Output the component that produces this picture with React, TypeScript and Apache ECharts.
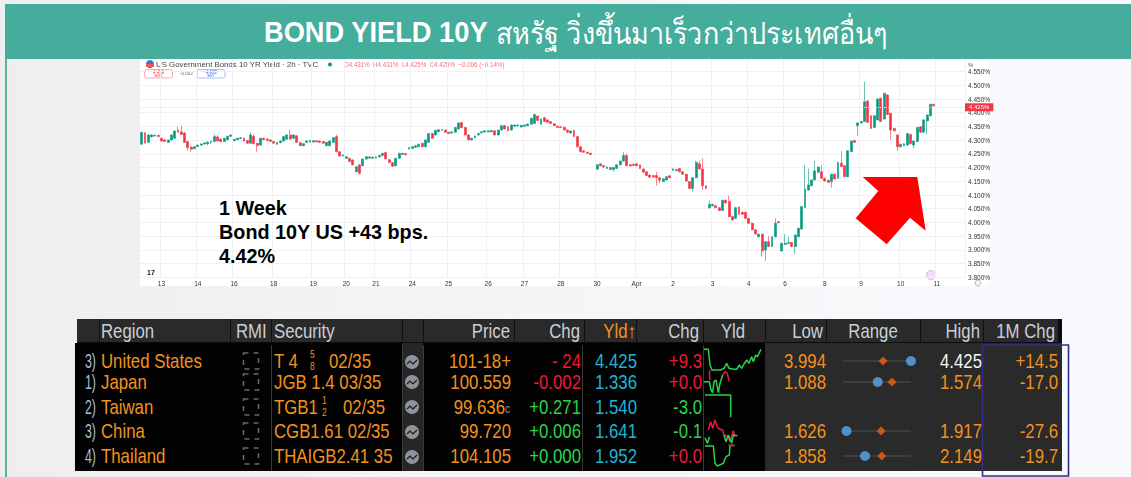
import React, { useEffect, useRef } from "react";
import * as echarts from "echarts";

// Candles: [open, close, low, high], one 2h session each
const mar13to21 = [
[4.285,4.329,4.285,4.329],[4.327,4.289,4.289,4.329],[4.292,4.319,4.290,4.321],[4.312,4.319,4.310,4.321],[4.315,4.318,4.313,4.320],[4.318,4.313,4.311,4.320],[4.307,4.297,4.295,4.309],[4.301,4.295,4.293,4.303],[4.292,4.301,4.289,4.302],[4.301,4.319,4.299,4.321],
[4.307,4.333,4.305,4.335],[4.337,4.329,4.327,4.349],[4.331,4.321,4.319,4.353],[4.326,4.292,4.290,4.330],[4.295,4.273,4.261,4.297],[4.275,4.267,4.258,4.277],[4.269,4.276,4.266,4.278],[4.277,4.282,4.275,4.284],[4.282,4.286,4.280,4.288],[4.286,4.290,4.284,4.292],
[4.287,4.293,4.282,4.295],[4.292,4.296,4.285,4.298],[4.295,4.313,4.293,4.321],[4.312,4.297,4.295,4.319],[4.304,4.295,4.293,4.307],[4.295,4.307,4.293,4.309],[4.302,4.314,4.300,4.316],[4.314,4.319,4.312,4.321],[4.298,4.303,4.296,4.305],[4.302,4.307,4.300,4.309],
[4.306,4.309,4.304,4.311],[4.307,4.297,4.295,4.309],[4.299,4.289,4.287,4.301],[4.289,4.319,4.287,4.329],[4.314,4.287,4.285,4.322],[4.289,4.280,4.258,4.291],[4.282,4.307,4.280,4.309],[4.307,4.302,4.300,4.309],[4.304,4.299,4.297,4.306],[4.301,4.296,4.294,4.303],
[4.295,4.289,4.287,4.297],[4.285,4.292,4.283,4.294],[4.291,4.297,4.289,4.299],[4.297,4.313,4.295,4.315],[4.303,4.319,4.301,4.321],[4.319,4.304,4.302,4.337],[4.307,4.319,4.305,4.321],[4.316,4.292,4.290,4.318],[4.291,4.280,4.278,4.293],[4.280,4.287,4.278,4.289],
[4.292,4.297,4.290,4.299],[4.293,4.299,4.291,4.301],[4.293,4.298,4.291,4.300],[4.298,4.294,4.292,4.300],[4.297,4.292,4.290,4.299],[4.295,4.289,4.287,4.297],[4.280,4.292,4.278,4.294],[4.280,4.297,4.278,4.299],[4.292,4.309,4.290,4.311],[4.313,4.258,4.256,4.320],
[4.258,4.242,4.240,4.260],[4.242,4.246,4.240,4.248],[4.234,4.240,4.232,4.242],[4.234,4.222,4.220,4.236],[4.228,4.210,4.208,4.230],[4.185,4.203,4.183,4.205],[4.210,4.179,4.175,4.212],[4.207,4.231,4.205,4.233],[4.231,4.240,4.229,4.242],[4.235,4.239,4.233,4.241],
[4.234,4.238,4.232,4.240],[4.235,4.239,4.233,4.241],[4.239,4.244,4.237,4.246],[4.244,4.252,4.242,4.254],[4.255,4.232,4.230,4.257],[4.229,4.219,4.217,4.231],[4.218,4.205,4.203,4.220],[4.207,4.234,4.205,4.236],[4.234,4.252,4.232,4.254],[4.248,4.252,4.246,4.254],
[4.251,4.247,4.245,4.253],
];
const mar24to28 = [
[4.268,4.273,4.266,4.275],[4.270,4.276,4.268,4.278],[4.274,4.280,4.272,4.282],[4.276,4.285,4.274,4.287],[4.289,4.276,4.274,4.291],[4.276,4.301,4.274,4.303],[4.292,4.324,4.290,4.326],[4.324,4.307,4.305,4.326],[4.319,4.336,4.317,4.338],[4.331,4.338,4.329,4.340],
[4.336,4.338,4.334,4.340],[4.337,4.329,4.327,4.339],[4.329,4.324,4.322,4.331],[4.326,4.330,4.324,4.332],[4.329,4.346,4.327,4.348],[4.341,4.363,4.339,4.365],[4.364,4.346,4.344,4.366],[4.346,4.319,4.317,4.348],[4.319,4.301,4.299,4.321],[4.301,4.307,4.299,4.309],
[4.309,4.315,4.307,4.317],[4.319,4.324,4.317,4.326],[4.327,4.331,4.325,4.333],[4.330,4.334,4.328,4.336],[4.330,4.334,4.328,4.336],[4.331,4.335,4.329,4.337],[4.334,4.319,4.317,4.336],[4.319,4.337,4.317,4.339],[4.337,4.353,4.335,4.355],[4.353,4.341,4.339,4.355],
[4.349,4.334,4.332,4.351],[4.337,4.355,4.335,4.357],[4.351,4.355,4.349,4.357],[4.352,4.355,4.350,4.357],[4.348,4.354,4.346,4.356],[4.351,4.355,4.349,4.357],[4.353,4.359,4.351,4.361],[4.358,4.380,4.356,4.382],[4.361,4.394,4.359,4.396],[4.388,4.372,4.370,4.390],
[4.358,4.377,4.356,4.379],[4.382,4.368,4.366,4.384],[4.374,4.365,4.363,4.376],[4.368,4.361,4.359,4.370],[4.360,4.353,4.351,4.362],[4.351,4.346,4.344,4.353],[4.349,4.346,4.344,4.351],[4.347,4.337,4.335,4.349],[4.337,4.329,4.327,4.339],[4.326,4.333,4.324,4.335],
[4.335,4.313,4.311,4.337],[4.313,4.276,4.274,4.315],[4.276,4.258,4.256,4.278],[4.261,4.256,4.254,4.263],[4.256,4.252,4.250,4.258],[4.252,4.248,4.246,4.254],
];
const mar31toApr4 = [
[4.194,4.210,4.192,4.212],[4.214,4.207,4.205,4.216],[4.207,4.202,4.200,4.209],[4.197,4.202,4.195,4.204],[4.193,4.200,4.191,4.202],[4.193,4.200,4.185,4.202],[4.197,4.210,4.195,4.212],[4.210,4.224,4.208,4.226],[4.224,4.244,4.222,4.256],[4.244,4.207,4.205,4.250],
[4.210,4.206,4.204,4.212],[4.212,4.208,4.206,4.214],[4.214,4.207,4.205,4.216],[4.210,4.197,4.195,4.212],[4.195,4.183,4.181,4.197],[4.185,4.171,4.169,4.187],[4.173,4.165,4.163,4.175],[4.171,4.166,4.164,4.173],[4.171,4.163,4.134,4.185],[4.163,4.154,4.143,4.165],
[4.149,4.159,4.147,4.161],[4.155,4.167,4.153,4.169],[4.170,4.163,4.161,4.172],[4.190,4.195,4.188,4.197],[4.189,4.193,4.187,4.195],[4.197,4.185,4.183,4.199],[4.185,4.176,4.174,4.187],[4.176,4.151,4.149,4.178],[4.149,4.124,4.122,4.151],[4.124,4.163,4.112,4.165],
[4.163,4.219,4.161,4.225],[4.214,4.195,4.193,4.225],[4.195,4.134,4.118,4.234],[4.134,4.124,4.122,4.136],[4.054,4.066,4.050,4.080],[4.061,4.066,4.059,4.068],[4.061,4.054,4.052,4.063],[4.054,4.044,4.042,4.056],[4.044,4.081,4.042,4.083],[4.081,4.071,4.069,4.083],
[4.076,4.021,4.019,4.098],[4.022,4.009,4.007,4.024],[4.015,4.054,4.013,4.056],[4.056,4.030,4.028,4.058],[4.037,4.030,4.028,4.039],[4.037,4.015,4.013,4.039],[4.015,3.997,3.995,4.017],[3.997,3.973,3.971,3.999],[3.973,3.958,3.956,3.975],[3.948,3.957,3.946,3.959],
[3.957,3.896,3.875,3.959],[3.900,3.930,3.860,3.932],[3.930,3.912,3.910,3.950],[3.912,3.948,3.910,3.950],[3.948,3.997,3.946,4.015],[4.003,3.999,3.997,4.005],
];
const apr7to10 = [
[3.896,3.924,3.894,3.926],[3.920,3.924,3.918,3.957],[3.923,3.927,3.921,3.948],[3.927,3.912,3.910,3.929],[3.912,3.954,3.884,3.956],[3.948,3.979,3.946,3.981],[3.976,4.058,3.974,4.060],[4.054,4.122,4.052,4.210],[4.118,4.137,4.116,4.197],[4.134,4.155,4.132,4.157],
[4.155,4.188,4.153,4.224],[4.183,4.202,4.181,4.204],[4.185,4.161,4.159,4.210],[4.161,4.151,4.149,4.163],[4.154,4.146,4.144,4.156],[4.149,4.176,4.127,4.178],[4.176,4.158,4.156,4.178],[4.161,4.219,4.159,4.221],[4.216,4.204,4.202,4.261],[4.207,4.167,4.165,4.209],
[4.167,4.261,4.165,4.263],[4.258,4.297,4.256,4.299],[4.299,4.292,4.290,4.301],[4.353,4.363,4.316,4.365],[4.363,4.368,4.361,4.370],[4.368,4.440,4.366,4.513],[4.443,4.365,4.363,4.445],[4.389,4.343,4.341,4.391],[4.346,4.389,4.344,4.391],[4.374,4.450,4.372,4.452],
[4.453,4.368,4.366,4.455],[4.377,4.471,4.375,4.473],[4.465,4.394,4.392,4.467],[4.398,4.337,4.301,4.400],[4.343,4.334,4.332,4.345],[4.319,4.276,4.261,4.321],[4.276,4.285,4.274,4.287],[4.280,4.287,4.278,4.289],[4.282,4.324,4.280,4.326],[4.321,4.287,4.285,4.323],
[4.282,4.297,4.270,4.299],[4.295,4.346,4.293,4.348],[4.349,4.329,4.327,4.351],[4.329,4.374,4.327,4.376],[4.370,4.392,4.321,4.394],[4.389,4.431,4.387,4.433],[4.431,4.425,4.425,4.431],
];
const tickLabels = ["13","14","16","18","19","20","21","24","25","26","27","28","30","Apr","2","3","4","6","8","9","10","11"];
const tickSessions = [6,17,28,40,52,62,71,82,93,105,116,127,138,150,161,173,184,195,207,218,230,241];
const sessionCount = 250;
const lastPrice = 4.425;

const rowTags = ["3)","1)","2)","3)","4)"];
const regions = ["United States","Japan","Taiwan","China","Thailand"];
const prices = ["101-18+","100.559","99.636","99.720","104.105"];
const changes = ["- 24","-0.002","+0.271","+0.006","+0.000"];
const yields = [4.425,1.336,1.540,1.641,1.952];
const yieldChanges = ["+9.3","+0.0","-3.0","-0.1","+0.0"];
const lows = [3.994,1.088,null,1.626,1.858];
const highs = [4.425,1.574,null,1.917,2.149];
const rangeMarks = [0.59,0.72,null,0.56,0.57];
const monthChanges = ["+14.5","-17.0","","-27.6","-19.7"];

const sparkUS = [[12,28],[25,28],[30,75],[36,90],[50,90],[62,90],[72,85],[80,70],[87,85],[100,88],[110,88],[118,75],[125,85],[132,72],[140,60],[147,70],[155,50],[160,65],[167,45],[172,50],[183,28]];
const sparkJapanUp = [[12,125],[28,125],[33,150],[38,158],[42,125],[48,120],[55,158],[60,130],[68,105]];
const sparkJapanDown = [[30,120],[28,93],[32,93]];
const sparkJapanDown2 = [[68,105],[75,95],[82,100],[88,125]];
const sparkTaiwan = [[15,165],[92,165],[92,232]];
const sparkChinaUp = [[15,293],[22,310],[28,290]];
const sparkChinaDown = [[25,270],[32,245],[38,265],[45,240],[52,262],[60,268],[68,270],[72,285],[85,290],[90,305],[100,272],[105,290]];
const sparkChinaUp2 = [[72,285],[78,305],[85,285],[95,310],[100,285],[112,287]];
const sparkThailand = [[15,318],[40,318],[45,370],[52,378],[70,370],[78,350],[88,345],[90,318],[100,315]];
const sparkThailandDown = [[85,315],[105,317]];

const UP = "#089981", DOWN = "#f23645";
const GREEN = "#29d44a", RED = "#f0163c", ORANGE = "#f2921d", CYAN = "#1fb4d6", HEAD = "#c9cfd6";
const SANS = "'Liberation Sans',sans-serif";
const ROW_Y = [361, 382, 407, 431, 456];
const ICON_Y = [362, 382, 407, 432, 457];

const t = (x: number, y: number, text: string, fill: string, align = "left", fontSize = 20, extra: any = {}) => {
  const { sx, ...style } = extra;
  return {
    type: "text", x, y, silent: true, scaleX: sx ?? 0.84,
    style: { text, fill, align, verticalAlign: "middle", fontSize, fontFamily: SANS, ...style },
  };
};
const rect = (x: number, y: number, width: number, height: number, fill: string, extra: any = {}) => ({
  type: "rect", silent: true, shape: { x, y, width, height }, style: { fill, ...extra },
});

export default function App() {
  const chartRef = useRef<HTMLDivElement>(null);
  const overlayRef = useRef<HTMLDivElement>(null);

  useEffect(() => {
    document.body.style.margin = "0";
    const chart = echarts.init(chartRef.current!, null, { renderer: "svg" });
    const overlay = echarts.init(overlayRef.current!, null, { renderer: "svg" });

    const sessions: any[] = [...mar13to21, ...mar24to28, "-", ...mar31toApr4, ...apr7to10];
    while (sessions.length < sessionCount) sessions.push("-");
    const categories = sessions.map((_, i) => String(i));

    const small = { fontFamily: SANS, sx: 1 };
    chart.setOption({
      animation: false,
      grid: { left: 140, top: 57.9, width: 825, height: 219.4 },
      xAxis: {
        type: "category", data: categories,
        axisLine: { show: false }, axisTick: { show: false },
        axisLabel: {
          interval: (i: number) => tickSessions.includes(i),
          formatter: (_: string, i: number) => tickLabels[tickSessions.indexOf(i)] ?? "",
          fontSize: 6.5, color: "#333", margin: 3, fontFamily: SANS,
        },
        splitLine: { show: true, interval: (i: number) => tickSessions.includes(i), lineStyle: { color: "#f1f1f1", width: 1 } },
      },
      yAxis: {
        type: "value", position: "right", min: 3.8, max: 4.6, interval: 0.05,
        axisLine: { show: false }, axisTick: { show: false },
        axisLabel: { fontSize: 6.5, color: "#333", margin: 3, formatter: (v: number) => (v > 4.58 ? "" : v.toFixed(3) + "%"), fontFamily: SANS },
        splitLine: { show: true, lineStyle: { color: "#f1f1f1", width: 1 } },
      },
      series: [{
        type: "candlestick", data: sessions, barWidth: 2.4,
        itemStyle: { color: UP, color0: DOWN, borderColor: UP, borderColor0: DOWN, borderWidth: 0.6 },
        markLine: {
          silent: true, symbol: "none", animation: false,
          lineStyle: { color: "#fbd0d6", type: "dotted", width: 1 },
          data: [{ yAxis: lastPrice }],
          label: { position: "end", formatter: lastPrice.toFixed(3) + "%", fontSize: 6, color: "#fff", backgroundColor: DOWN, padding: [1, 4, 1, 4], distance: 0 },
        },
      }],
      graphic: { elements: [
        { ...rect(140, 58, 849, 228, "#ffffff"), z: -10 },
        { type: "circle", silent: true, shape: { cx: 150, cy: 64, r: 4 }, style: { fill: "#3c74c8" } },
        { ...rect(146, 64, 8, 3, "#ee5a64") },
        t(156, 64.5, "US Government Bonds 10 YR Yield · 2h · TVC", "#444", "left", 7.5, { ...small, sx: 1.05 }),
        { type: "circle", silent: true, shape: { cx: 330, cy: 64.5, r: 2 }, style: { fill: UP } },
        t(344, 64.5, "O4.431%  H4.431%  L4.425%  C4.425%  −0.006 (−0.14%)", "#f2707e", "left", 6.5, { ...small, sx: 0.95 }),
        { ...rect(144.5, 69.5, 28, 8.5, "#fff", { stroke: "#f7a9b2", lineWidth: 1 }), shape: { x: 144.5, y: 69.5, width: 28, height: 8.5, r: 2 } },
        t(158.5, 72, "4.456", DOWN, "center", 4.5, small),
        t(158.5, 76, "SELL", DOWN, "center", 3.5, small),
        t(180, 73.5, "-0.003", "#666", "left", 4.5, small),
        { ...rect(197, 69.5, 28, 8.5, "#fff", { stroke: "#a9c0f7", lineWidth: 1 }), shape: { x: 197, y: 69.5, width: 28, height: 8.5, r: 2 } },
        t(211, 72, "4.453", "#2962ff", "center", 4.5, small),
        t(211, 76, "BUY", "#2962ff", "center", 3.5, small),
        t(968, 64.5, "%", "#555", "left", 6, small),
        t(147, 272.5, "17", "#222", "left", 7, { ...small, fontWeight: "bold", letterSpacing: 1.5 }),
        { type: "circle", silent: true, shape: { cx: 931, cy: 275, r: 4.5 }, style: { fill: "#efe0fa", stroke: "#c89ae8", lineWidth: 0.7 } },
        { type: "circle", silent: true, shape: { cx: 978, cy: 283, r: 3 }, style: { fill: "#f4f4f4", stroke: "#999", lineWidth: 0.7 } },
      ] },
    });

    const elements: any[] = [
      rect(5, 4, 1126, 55, "#44ad9c"),
      rect(5, 59, 2, 418, "#55b3a4"),
      t(264, 32, "BOND YIELD 10Y", "#fff", "left", 29, { fontWeight: "bold", sx: 0.94 }),
      t(496, 32, "สหรัฐ วิ่งขึ้นมาเร็วกว่าประเทศอื่นๆ", "#fff", "left", 30, { fontFamily: "'Noto Sans','DejaVu Sans',sans-serif", sx: 0.9 }),
      t(219, 208, "1 Week", "#000", "left", 20, { fontWeight: "bold", sx: 0.99 }),
      t(219, 232, "Bond 10Y US +43 bps.", "#000", "left", 20, { fontWeight: "bold", sx: 0.99 }),
      t(219, 256, "4.42%", "#000", "left", 20, { fontWeight: "bold", sx: 0.99 }),
      { type: "polygon", silent: true, shape: { points: [[862.7,177],[917.3,177],[925.7,230.7],[910,217.7],[886.7,244.3],[855.7,218.3],[878.3,191]] }, style: { fill: "#ff0000" } },

      rect(77, 319, 985, 24, "#0c0c0c"),
      rect(77, 319, 981, 23, "#2a2a2a"),
      rect(75, 343, 690, 128, "#020202"),
      rect(765, 343, 297, 128, "#2a2a2a"),
      rect(402, 343, 21, 128, "#262626"),
    ];
    [99, 230, 271, 402, 423, 514, 584, 636, 703, 765, 826, 920, 983].forEach((x) => elements.push(rect(x, 319, 1, 23, "#111")));
    [271, 402, 423, 582, 703].forEach((x) => elements.push(rect(x, 345, 1, 126, "#3a3a3a")));

    elements.push(
      t(101, 331, "Region", HEAD), t(236, 331, "RMI", HEAD), t(274, 331, "Security", HEAD),
      t(510, 331, "Price", HEAD, "right"), t(580, 331, "Chg", HEAD, "right"),
      t(636, 331, "Yld↑", ORANGE, "right"), t(699, 331, "Chg", HEAD, "right"),
      t(733, 331, "Yld", HEAD, "center"), t(823, 331, "Low", HEAD, "right"),
      t(873, 331, "Range", HEAD, "center"), t(980, 331, "High", HEAD, "right"), t(1055, 331, "1M Chg", HEAD, "right"),
    );
    regions.forEach((region, i) => {
      const y = ROW_Y[i];
      elements.push(t(96, y, rowTags[i], "#a9bdd8", "right", 20, { sx: 0.62 }));
      elements.push(t(101, y, region, ORANGE));
      elements.push(rect(243.5, y - 8, 15, 16, "none", { stroke: "#6a6a6a", lineWidth: 1.5, lineDash: [5, 5] }));
      elements.push({ type: "circle", silent: true, shape: { cx: 412, cy: ICON_Y[i], r: 7 }, style: { fill: "#8d949c" } });
      elements.push({ type: "polyline", silent: true, shape: { points: [[407, ICON_Y[i] + 2], [410, ICON_Y[i] - 1], [413, ICON_Y[i] + 2], [417, ICON_Y[i] - 2]] }, style: { fill: "none", stroke: "#1a1a1a", lineWidth: 1.2 } });
      elements.push(t(i === 2 ? 505 : 511, y, prices[i], ORANGE, "right"));
      elements.push(t(581, y, changes[i], i < 2 ? RED : GREEN, "right"));
      elements.push(t(637, y, yields[i].toFixed(3), CYAN, "right"));
      elements.push(t(702, y, yieldChanges[i], yieldChanges[i] === "+9.3" || i === 1 || i === 4 ? RED : GREEN, "right"));
      if (lows[i] !== null) {
        elements.push(t(826, y, lows[i]!.toFixed(3), ORANGE, "right"));
        elements.push(t(982, y, highs[i]!.toFixed(3), i === 0 ? "#f4f4f4" : ORANGE, "right"));
      }
      if (monthChanges[i]) elements.push(t(1058, y, monthChanges[i], ORANGE, "right"));
    });
    // Security column
    elements.push(
      t(274, 361, "T 4", ORANGE), t(310, 355, "5", ORANGE, "left", 10), t(310, 367, "8", ORANGE, "left", 10),
      t(329, 361, "02/35", ORANGE),
      t(274, 382, "JGB 1.4 03/35", ORANGE),
      t(274, 407, "TGB1", ORANGE), t(322, 401, "1", ORANGE, "left", 10), t(322, 413, "2", ORANGE, "left", 10),
      t(343, 407, "02/35", ORANGE),
      t(274, 431, "CGB1.61 02/35", ORANGE),
      t(274, 456, "THAIGB2.41 35", ORANGE),
      t(505, 409, "c", "#8a8f98", "left", 12),
      { ...rect(982.5, 345, 86, 131, "none", { stroke: "#2e2e8c", lineWidth: 1.6 }) },
    );

    const rangeRows = regions.map((_, i) => i).filter((i) => lows[i] !== null);
    const grids: any[] = [{ left: 700, top: 340, width: 70, height: 135 }];
    const xAxes: any[] = [{ type: "value", show: false, min: 0, max: 210, gridIndex: 0 }];
    const yAxes: any[] = [{ type: "value", show: false, min: 0, max: 405, inverse: true, gridIndex: 0 }];
    const line = (data: number[][], color: string, width = 1.5) => ({
      type: "line", data, symbol: "none", silent: true, xAxisIndex: 0, yAxisIndex: 0,
      lineStyle: { color, width }, z: 5,
    });
    const series: any[] = [
      line(sparkUS, GREEN), line(sparkJapanUp, GREEN), line(sparkJapanDown, RED), line(sparkJapanDown2, RED),
      line(sparkTaiwan, GREEN), line(sparkChinaUp, GREEN), line(sparkChinaDown, RED), line(sparkChinaUp2, GREEN),
      line(sparkThailand, GREEN), line(sparkThailandDown, RED),
    ];
    rangeRows.forEach((row, n) => {
      const g = n + 1;
      grids.push({ left: 843, top: ROW_Y[row] - 8, width: 68, height: 16 });
      xAxes.push({ type: "value", show: false, min: 0, max: 1, gridIndex: g });
      yAxes.push({ type: "value", show: false, min: 0, max: 1, gridIndex: g });
      const position = (yields[row] - lows[row]!) / (highs[row]! - lows[row]!);
      series.push({ type: "line", silent: true, symbol: "none", xAxisIndex: g, yAxisIndex: g, data: [[0, 0.5], [1, 0.5]], lineStyle: { color: "#505050", width: 1.2 }, z: 4 });
      series.push({ type: "scatter", silent: true, xAxisIndex: g, yAxisIndex: g, clip: false, data: [[position, 0.5]], symbol: "circle", symbolSize: 10, itemStyle: { color: "#5aaaf2" }, z: 5 });
      series.push({ type: "scatter", silent: true, xAxisIndex: g, yAxisIndex: g, clip: false, data: [[rangeMarks[row], 0.5]], symbol: "diamond", symbolSize: 9, itemStyle: { color: "#f0600c" }, z: 6 });
    });

    overlay.setOption({
      animation: false,
      grid: grids, xAxis: xAxes, yAxis: yAxes, series,
      graphic: { elements: elements.map((e) => ({ ...e, z: e.z ?? -5 })) },
    });

    return () => { chart.dispose(); overlay.dispose(); };
  }, []);

  const box: React.CSSProperties = { position: "absolute", left: 0, top: 0, width: 1131, height: 477 };
  return (
    <div style={{ ...box, overflow: "hidden", background: "linear-gradient(90deg,#eeeeee 0%,#f3f3f3 30%,#f8f9fc 85%,#f8f9fc 100%)" }}>
      <div ref={chartRef} style={{ ...box, filter: "blur(0.6px)" }} />
      <div ref={overlayRef} style={box} />
    </div>
  );
}
